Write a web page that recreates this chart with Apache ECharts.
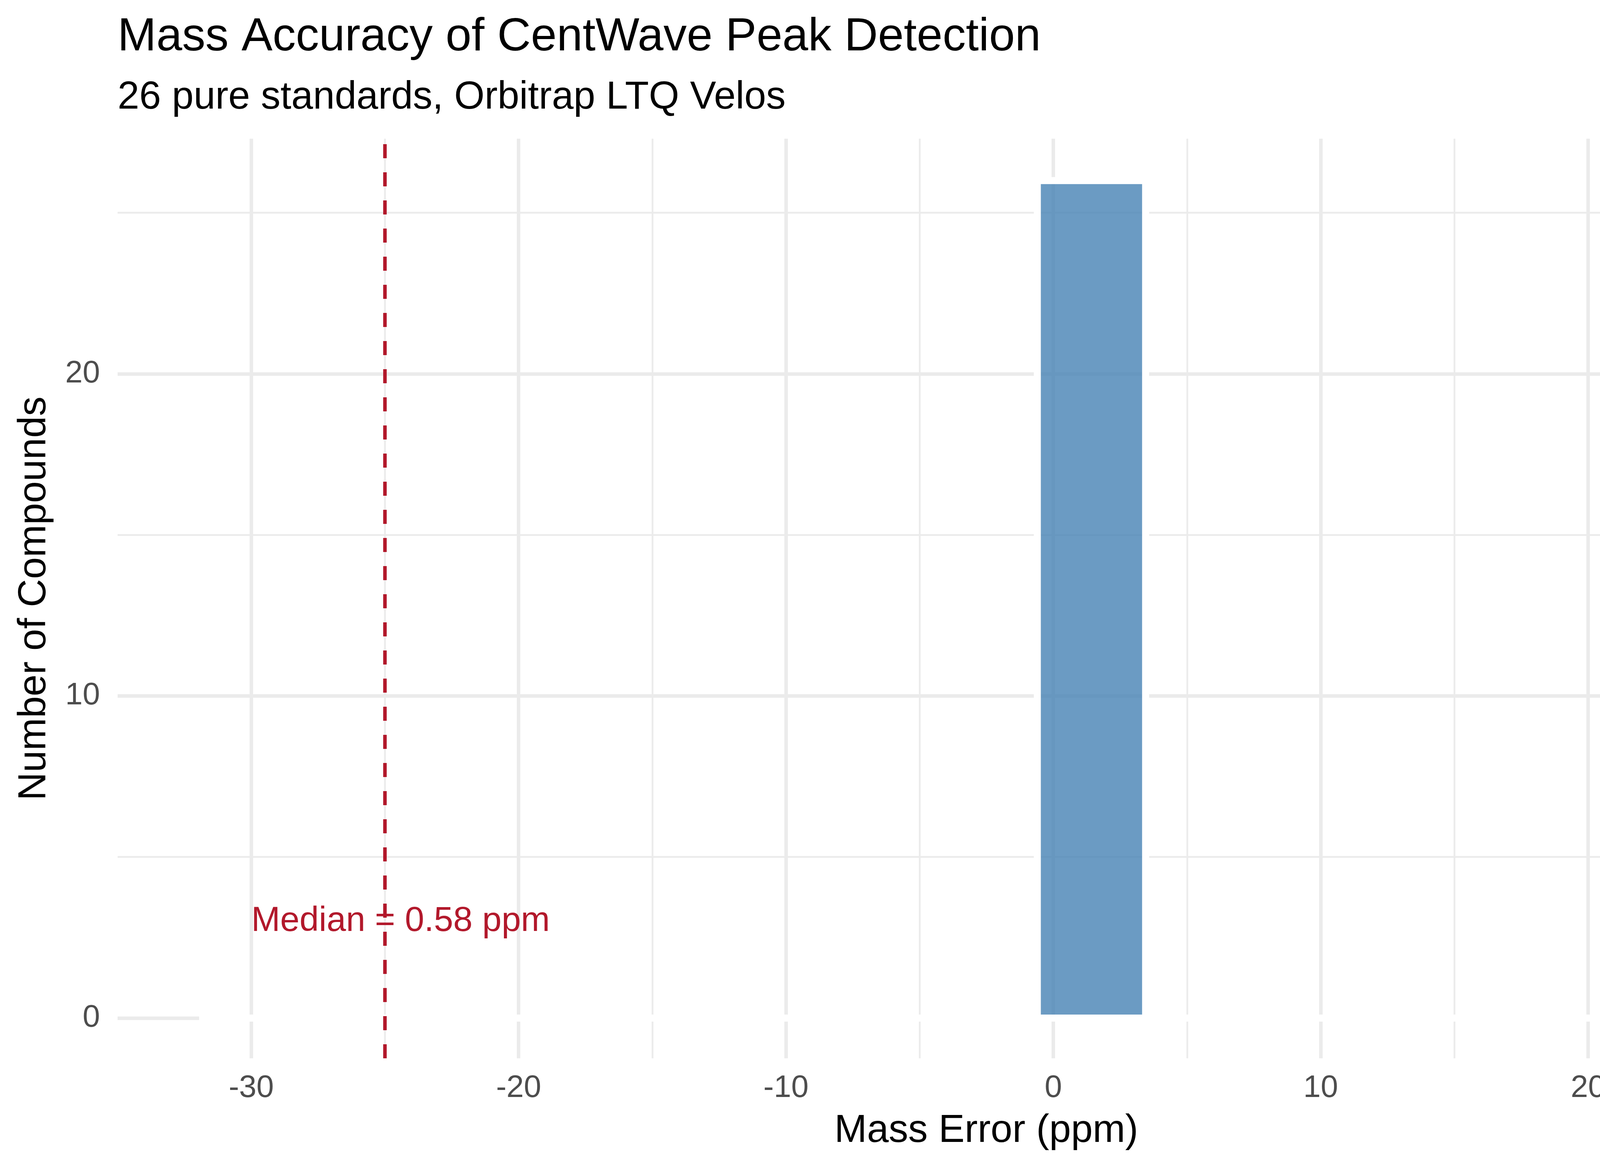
<!DOCTYPE html>
<html>
<head>
<meta charset="utf-8">
<title>Mass Accuracy of CentWave Peak Detection</title>
<script src="https://cdn.jsdelivr.net/npm/echarts@6/dist/echarts.min.js"></script>
<style>
html, body { margin: 0; padding: 0; background: #fff; }
#chart { width: 4800px; height: 3000px; }
</style>
</head>
<body>
<div id="chart"></div>
<script>
// values
const xTickLabels = [-30, -20, -10, 0, 10, 20];
const yTickLabels = [0, 10, 20];
const xRange = [-35, 30];
const yRange = [-1.25, 27.3];
// histogram bins: [left edge, right edge, count]
const filledBins = [[-0.6, 3.45, 26]];
const emptyBins = [[-31.95, 26.9, 0]];
// reference lines (ppm) and the annotation
const refLines = [-25, 25];
const noteAt = [[-30, 3]];
const noteText = ['Median = 0.58 ppm'];

const FONT = 'Liberation Sans, Arial, sans-serif';
const GRID = '#ebebeb';
const NONE = 'rgba(0,0,0,0)';
const RED = '#b2182b';

const chart = echarts.init(document.getElementById('chart'));

const option = {
    backgroundColor: '#fff',
    animation: false,
    grid: { left: 301, right: 50, top: 355, bottom: 291 },
    graphic: [
        { type: 'text', x: 301, y: 96, style: { text: 'Mass Accuracy of CentWave Peak Detection', font: '119px ' + FONT, fill: '#000', align: 'left', verticalAlign: 'middle' } },
        { type: 'text', x: 301, y: 250, style: { text: '26 pure standards, Orbitrap LTQ Velos', font: '100px ' + FONT, fill: '#000', align: 'left', verticalAlign: 'middle' } },
        { type: 'text', x: 2525, y: 2895, style: { text: 'Mass Error (ppm)', font: '100px ' + FONT, fill: '#000', align: 'center', verticalAlign: 'middle' } },
        { type: 'text', x: 88, y: 1532, rotation: Math.PI / 2, style: { text: 'Number of Compounds', font: '100px ' + FONT, fill: '#000', align: 'center', verticalAlign: 'middle' } }
    ],
    xAxis: [
        {
            // minor grid + labels
            type: 'value', min: xRange[0], max: xRange[1], interval: 5,
            axisLine: { show: false }, axisTick: { show: false },
            axisLabel: {
                margin: 37, fontSize: 80, fontFamily: FONT, color: '#4d4d4d',
                formatter: v => xTickLabels.includes(v) ? String(v) : ''
            },
            splitLine: { show: true, showMinLine: false, showMaxLine: false, lineStyle: { color: GRID, width: 4.5 } }
        },
        {
            // major grid
            type: 'value', position: 'top', min: xRange[0], max: xRange[1], interval: 5,
            axisLine: { show: false }, axisTick: { show: false }, axisLabel: { show: false },
            splitLine: { show: true, showMaxLine: false, lineStyle: { color: [NONE, GRID], width: 9 } }
        }
    ],
    yAxis: [
        {
            type: 'value', min: yRange[0], max: yRange[1], interval: 1.25,
            axisLine: { show: false }, axisTick: { show: false },
            axisLabel: {
                margin: 45, fontSize: 80, fontFamily: FONT, color: '#4d4d4d',
                formatter: v => yTickLabels.includes(v) ? String(v) : ''
            },
            splitLine: { show: true, lineStyle: { color: [NONE, GRID, NONE, NONE], width: 4.5 } }
        },
        {
            type: 'value', position: 'right', min: yRange[0], max: yRange[1], interval: 1.25,
            axisLine: { show: false }, axisTick: { show: false }, axisLabel: { show: false },
            splitLine: { show: true, lineStyle: { color: [NONE, GRID, NONE, NONE, NONE, NONE, NONE, NONE], width: 9 } }
        }
    ],
    series: [
        {
            // empty bins: only their white outline shows, over the y = 0 grid line
            type: 'custom',
            data: emptyBins,
            encode: { x: [0, 1], y: 2 },
            renderItem: (params, api) => {
                const a = api.coord([api.value(0), api.value(2)]);
                const b = api.coord([api.value(1), api.value(2)]);
                return { type: 'line', shape: { x1: a[0], y1: a[1], x2: b[0], y2: b[1] }, style: { stroke: '#fff', lineWidth: 18 } };
            }
        },
        {
            type: 'custom',
            data: filledBins,
            encode: { x: [0, 1], y: 2 },
            renderItem: (params, api) => {
                const p0 = api.coord([api.value(0), 0]);
                const p1 = api.coord([api.value(1), api.value(2)]);
                return {
                    type: 'rect',
                    shape: { x: p0[0], y: p1[1], width: p1[0] - p0[0], height: p0[1] - p1[1] },
                    style: { fill: 'rgba(70,130,180,0.8)', stroke: '#fff', lineWidth: 18 }
                };
            }
        },
        {
            type: 'custom',
            data: refLines.map(v => [v]),
            encode: { x: 0 },
            renderItem: (params, api) => {
                const a = api.coord([api.value(0), yRange[0]]);
                const b = api.coord([api.value(0), yRange[1]]);
                return { type: 'line', shape: { x1: a[0], y1: a[1], x2: b[0], y2: b[1] }, style: { stroke: RED, lineWidth: 9, lineDash: [36, 36] } };
            }
        },
        {
            type: 'custom',
            data: noteAt,
            encode: { x: 0, y: 1 },
            renderItem: (params, api) => {
                const p = api.coord([api.value(0), api.value(1)]);
                return { type: 'text', x: p[0], y: p[1], style: { text: noteText[params.dataIndex], font: '89px ' + FONT, fill: RED, align: 'left', verticalAlign: 'middle' } };
            }
        }
    ]
};

chart.setOption(option);
</script>
</body>
</html>
